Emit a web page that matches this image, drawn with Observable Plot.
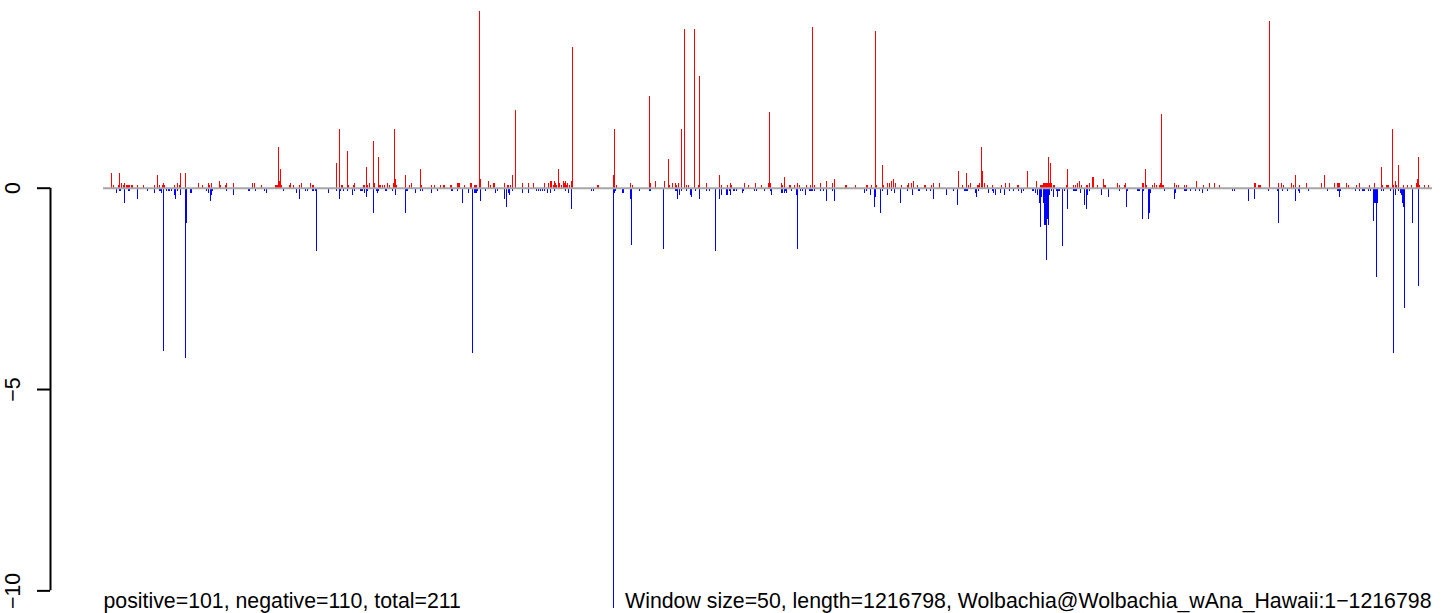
<!DOCTYPE html>
<html>
<head>
<meta charset="utf-8">
<script src="https://cdn.jsdelivr.net/npm/d3@7"></script>
<script src="https://cdn.jsdelivr.net/npm/@observablehq/plot@0.6"></script>
<style>
  html, body { margin: 0; padding: 0; background: #ffffff; }
  #chart svg { display: block; }
</style>
</head>
<body>
<div id="chart"></div>
<script>
// Window index along the genome (0 .. nWindows) and the score of each window.
const nWindows = 1329;
const posIdx = [8,10,15,16,18,20,21,23,24,25,26,28,29,34,40,51,54,56,59,60,61,71,74,76,77,82,95,99,105,106,108,116,117,122,123,130,149,151,158,172,173,174,175,176,177,178,186,187,190,196,198,207,209,210,
233,236,238,239,244,245,250,251,260,261,263,264,266,270,271,275,276,277,279,281,284,286,290,291,292,293,302,306,308,317,318,328,331,337,340,341,347,348,354,355,356,361,367,368,371,372,373,376,377,385,387,390,391,401,404,405,407,409,412,419,425,430,441,445,
447,448,450,451,452,453,455,456,458,460,461,462,463,464,466,468,469,494,495,510,511,513,527,529,546,547,552,561,565,566,569,572,573,575,578,581,583,585,591,595,596,603,616,618,624,627,628,641,645,652,658,665,666,667,
678,679,681,686,687,691,694,696,703,707,709,711,717,723,729,731,742,743,752,763,764,768,772,773,779,780,784,786,788,790,792,798,804,805,808,810,814,821,822,828,830,836,855,859,863,865,867,874,875,876,878,879,881,884,889,
898,902,906,914,915,924,933,937,938,939,940,941,942,943,944,945,946,947,948,950,951,963,964,970,972,974,976,978,983,984,986,989,990,994,1000,1001,1002,1014,1016,1021,1022,1039,1040,1042,1043,1049,1051,1053,1056,1057,1058,1059,1060,1071,1073,1075,1081,1083,1093,1100,1106,1111,1116,
1151,1152,1155,1156,1157,1166,1175,1178,1180,1188,1190,1192,1196,1203,1218,1221,1231,1234,1235,1236,1243,1245,1253,1256,1266,1271,1278,1279,1283,1284,1285,1289,1290,1292,1293,1295,1300,1304,1308,1313,1314,1315,1316,1321,1325];
const posVal = [0.36,0.07,0.07,0.36,0.12,0.07,0.12,0.07,0.07,0.07,0.07,0.07,0.07,0.07,0.07,0.07,0.31,0.07,0.07,0.12,0.07,0.07,0.12,0.07,0.36,0.36,0.12,0.07,0.12,0.07,0.12,0.17,0.07,0.07,0.12,0.12,0.12,0.12,0.07,0.07,0.07,0.07,1.01,0.17,0.46,0.07,0.07,0.12,0.07,0.07,0.12,0.12,0.07,0.07,
0.61,1.46,0.07,0.07,0.91,0.07,0.07,0.12,0.07,0.07,0.51,0.07,0.12,1.16,0.12,0.76,0.07,0.07,0.07,0.07,0.12,0.07,0.12,1.46,0.22,0.07,0.32,0.07,0.12,0.46,0.07,0.07,0.07,0.07,0.07,0.07,0.07,0.07,0.12,0.12,0.12,0.07,0.12,0.12,0.07,0.07,0.07,4.39,0.22,0.17,0.07,0.12,0.12,0.12,0.07,0.07,0.07,0.32,1.93,0.12,0.12,0.12,0.12,0.12,
0.17,0.17,0.07,0.17,0.12,0.07,0.46,0.12,0.07,0.17,0.12,0.17,0.07,0.12,0.07,0.17,3.49,0.07,0.07,0.32,1.46,0.07,0.12,0.07,2.28,0.12,0.17,0.17,0.71,0.07,0.12,0.12,0.07,0.12,1.46,3.94,0.07,0.07,3.94,0.07,2.77,0.12,0.32,0.07,0.07,0.12,0.07,0.12,0.07,0.12,0.07,0.12,1.88,0.12,
0.12,0.07,0.27,0.07,0.07,0.07,0.12,0.07,0.07,0.07,3.99,0.07,0.12,0.17,0.12,0.22,0.07,0.07,0.07,0.07,0.07,0.07,3.89,0.07,0.56,0.07,0.12,0.12,0.17,0.22,0.12,0.07,0.07,0.12,0.12,0.17,0.07,0.07,0.07,0.07,0.12,0.12,0.41,0.07,0.36,0.07,0.12,0.07,0.07,0.12,1.01,0.41,0.12,0.07,0.07,
0.07,0.12,0.12,0.07,0.07,0.41,0.17,0.07,0.07,0.07,0.12,0.12,0.12,0.12,0.12,0.76,0.12,0.61,0.12,0.07,0.07,0.07,0.46,0.07,0.07,0.12,0.17,0.07,0.07,0.07,0.12,0.27,0.27,0.07,0.22,0.07,0.07,0.12,0.07,0.07,0.12,0.12,0.12,0.46,0.07,0.07,0.12,0.07,0.07,0.12,1.83,0.07,0.07,0.12,0.07,0.07,0.07,0.07,0.17,0.07,0.12,0.12,0.07,
0.12,0.12,0.07,0.07,0.07,4.14,0.12,0.12,0.07,0.12,0.07,0.32,0.07,0.12,0.12,0.32,0.12,0.12,0.12,0.12,0.12,0.07,0.07,0.12,0.07,0.12,0.51,0.07,0.07,0.07,0.07,1.46,0.07,0.17,0.07,0.56,0.07,0.07,0.07,0.12,0.22,0.76,0.07,0.07,0.07];
const negIdx = [13,16,17,21,25,26,34,44,51,56,57,58,60,63,65,66,68,71,72,74,77,82,83,87,88,103,105,107,108,109,123,130,145,146,152,161,163,180,193,196,202,204,209,210,212,213,
225,233,236,237,240,244,249,251,257,258,259,261,263,264,270,273,274,275,282,283,289,292,302,303,304,312,317,319,328,334,348,349,354,359,365,369,371,372,373,374,377,382,392,394,401,403,405,406,409,419,425,433,435,437,439,441,444,
447,451,462,465,468,488,490,510,511,512,519,520,527,528,536,546,547,560,572,573,574,576,578,583,587,588,592,596,603,606,612,616,618,623,624,626,627,630,631,633,639,640,651,653,661,667,668,
678,679,681,682,683,688,693,694,697,699,702,706,707,708,709,711,717,720,723,729,731,761,763,767,771,772,777,779,784,788,791,797,804,809,815,816,823,827,830,843,850,854,861,862,863,864,872,873,875,885,889,890,892,
897,901,906,910,915,918,920,929,930,932,934,936,937,938,940,941,942,943,944,945,946,948,950,953,954,955,956,959,961,964,970,971,972,973,977,981,983,984,986,998,1005,1016,1023,1024,1034,1035,1036,1039,1040,1045,1046,1047,1061,1071,1072,1081,1082,1083,1087,1092,1096,1099,1104,
1129,1131,1145,1151,1165,1174,1175,1179,1184,1192,1195,1196,1205,1224,1234,1235,1236,1237,1252,1256,1259,1260,1261,1265,1267,1270,1271,1272,1273,1274,1278,1280,1287,1290,1292,1295,1297,1298,1299,1300,1301,1309,1315];
const negVal = [-0.12,-0.07,-0.07,-0.37,-0.07,-0.07,-0.27,-0.07,-0.12,-0.07,-0.07,-0.12,-4.05,-0.07,-0.07,-0.07,-0.07,-0.17,-0.27,-0.07,-0.17,-4.24,-0.87,-0.12,-0.12,-0.07,-0.12,-0.32,-0.17,-0.07,-0.07,-0.17,-0.07,-0.07,-0.07,-0.07,-0.12,-0.07,-0.12,-0.27,-0.07,-0.07,-0.07,-0.07,-0.07,-1.56,
-0.12,-0.07,-0.27,-0.07,-0.07,-0.07,-0.17,-0.07,-0.07,-0.07,-0.07,-0.12,-0.22,-0.07,-0.62,-0.07,-0.12,-0.07,-0.07,-0.07,-0.07,-0.17,-0.62,-0.07,-0.07,-0.12,-0.07,-0.07,-0.12,-0.07,-0.07,-0.07,-0.07,-0.37,-0.12,-4.10,-0.12,-0.12,-0.12,-0.07,-0.32,-0.07,-0.12,-0.07,-0.27,-0.47,-0.12,-0.17,-0.07,-0.12,-0.12,-0.07,-0.07,-0.07,-0.07,-0.07,-0.12,
-0.12,-0.07,-0.07,-0.12,-0.52,-0.07,-0.07,-10.44,-0.12,-0.07,-0.12,-0.12,-0.27,-1.42,-0.07,-0.07,-0.07,-1.51,-0.07,-0.07,-0.27,-0.17,-0.07,-0.07,-0.17,-0.22,-0.07,-0.27,-0.07,-0.07,-1.56,-0.27,-0.17,-0.17,-0.17,-0.07,-0.17,-0.07,-0.07,-0.07,-0.12,-0.07,-0.07,-0.07,-0.07,-0.07,-0.17,
-0.12,-0.12,-0.12,-0.07,-0.12,-0.07,-0.17,-1.51,-0.07,-0.07,-0.17,-0.07,-0.07,-0.07,-0.07,-0.07,-0.07,-0.07,-0.32,-0.07,-0.32,-0.12,-0.07,-0.17,-0.47,-0.22,-0.62,-0.07,-0.17,-0.07,-0.12,-0.37,-0.07,-0.17,-0.07,-0.07,-0.07,-0.07,-0.27,-0.17,-0.07,-0.42,-0.07,-0.07,-0.07,-0.07,-0.12,-0.22,-0.07,-0.12,-0.07,-0.12,-0.17,
-0.12,-0.17,-0.07,-0.07,-0.07,-0.12,-0.07,-0.07,-0.07,-0.12,-0.17,-0.37,-0.97,-0.22,-0.37,-0.92,-0.92,-1.79,-0.77,-0.92,-0.17,-0.07,-0.22,-0.07,-0.22,-0.07,-0.07,-1.46,-0.07,-0.52,-0.07,-0.07,-0.07,-0.07,-0.12,-0.42,-0.52,-0.17,-0.07,-0.17,-0.22,-0.07,-0.47,-0.07,-0.07,-0.07,-0.07,-0.77,-0.07,-0.77,-0.62,-0.12,-0.07,-0.27,-0.12,-0.07,-0.07,-0.07,-0.07,-0.07,-0.07,-0.12,-0.07,
-0.07,-0.07,-0.32,-0.27,-0.07,-0.07,-0.87,-0.07,-0.07,-0.32,-0.07,-0.12,-0.07,-0.07,-0.07,-0.07,-0.22,-0.07,-0.07,-0.07,-0.07,-0.07,-0.07,-0.07,-0.07,-0.82,-0.37,-0.37,-2.23,-0.37,-0.07,-0.07,-0.07,-4.10,-0.17,-0.07,-0.12,-0.17,-0.37,-0.47,-2.98,-0.87,-2.43];

const yTicks = [0, -5, -10];
const yTickLabels = ["0", "\u22125", "\u221210"];
const captionLeft = "positive=101, negative=110, total=211";
const captionRight = "Window size=50, length=1216798, Wolbachia@Wolbachia_wAna_Hawaii:1\u22121216798";

const xDomain = [-52, nWindows];
const yDomain = [-10.5, 4.5];

const positives = posIdx.map((i, k) => ({i, v: posVal[k]}));
const negatives = negIdx.map((i, k) => ({i, v: negVal[k]}));

const chart = Plot.plot({
  width: 1444,
  height: 613,
  marginLeft: 51,
  marginRight: 12,
  marginTop: 6.5,
  marginBottom: 2.5,
  style: {fontFamily: "'Liberation Sans', Arial, Helvetica, sans-serif", fontSize: "21.3px", color: "#000", background: "#fff"},
  x: {domain: xDomain, axis: null},
  y: {domain: yDomain, axis: null},
  marks: [
    Plot.ruleX(positives, {x: "i", y1: 0, y2: "v", stroke: "#ff0000", strokeWidth: 1, shapeRendering: "crispEdges"}),
    Plot.ruleX(negatives, {x: "i", y1: 0, y2: "v", stroke: "#0000ff", strokeWidth: 1, shapeRendering: "crispEdges"}),
    Plot.ruleY([0], {x1: 0, x2: nWindows, stroke: "#a6a6a6", strokeWidth: 2}),
    Plot.ruleX([xDomain[0]], {y1: yTicks[2], y2: yTicks[0], stroke: "#000", strokeWidth: 2, dx: -1}),
    Plot.ruleY(yTicks, {y: d => d, x1: xDomain[0] - 13, x2: xDomain[0], stroke: "#000", strokeWidth: 2, dx: -1}),
    Plot.text(yTicks, {y: d => d, text: (d, k) => yTickLabels[k], frameAnchor: "left", dx: -38, rotate: -90, fontSize: 21.3, textAnchor: "middle", lineAnchor: "middle"}),
    Plot.text([captionLeft], {x: 0, text: d => d, frameAnchor: "bottom", textAnchor: "start", lineAnchor: "bottom", dy: -3.5, fontSize: 21.3}),
    Plot.text([captionRight], {x: nWindows - 1, text: d => d, frameAnchor: "bottom", textAnchor: "end", lineAnchor: "bottom", dy: -3.5, fontSize: 21.3})
  ]
});
document.getElementById("chart").appendChild(chart);
</script>
</body>
</html>
